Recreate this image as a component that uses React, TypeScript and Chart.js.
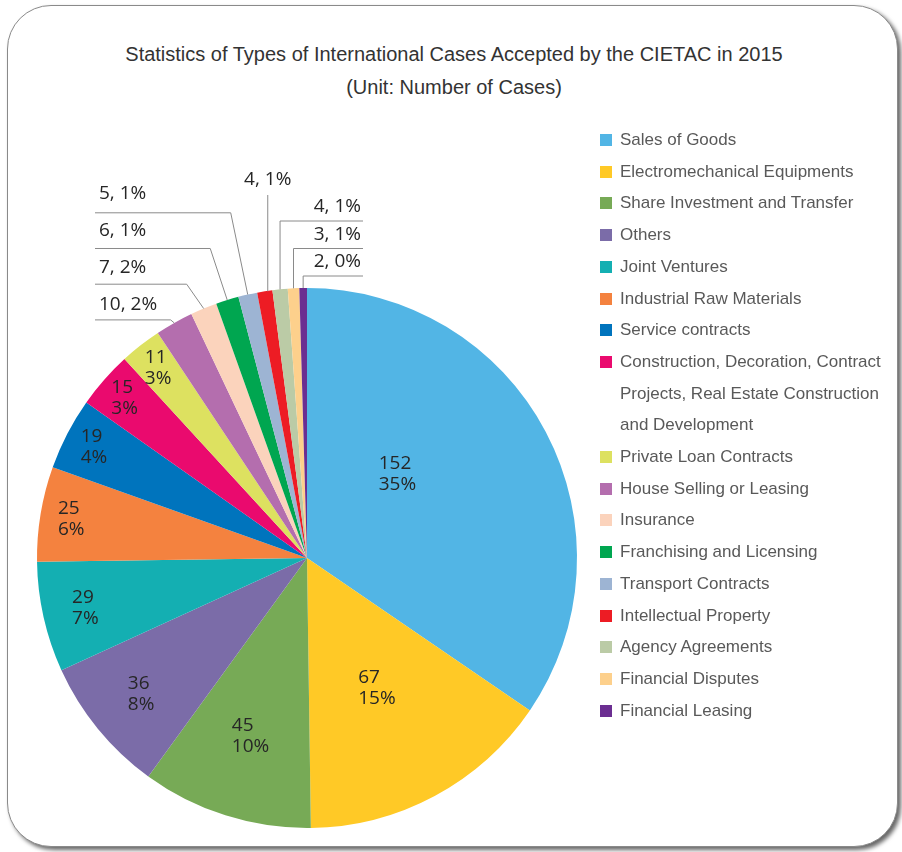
import React, { useEffect, useRef } from "react";
import { Chart, registerables } from "chart.js";

Chart.register(...registerables);

const TITLE_LINES = [
  "Statistics of Types of International Cases Accepted by the CIETAC in 2015",
  "(Unit: Number of Cases)",
];

const CATEGORIES = [
  "Sales of Goods",
  "Electromechanical Equipments",
  "Share Investment and Transfer",
  "Others",
  "Joint Ventures",
  "Industrial Raw Materials",
  "Service contracts",
  "Construction, Decoration, Contract Projects, Real Estate Construction and Development",
  "Private Loan Contracts",
  "House Selling or Leasing",
  "Insurance",
  "Franchising and Licensing",
  "Transport Contracts",
  "Intellectual Property",
  "Agency Agreements",
  "Financial Disputes",
  "Financial Leasing",
];

const CASES = [152, 67, 45, 36, 29, 25, 19, 15, 11, 10, 7, 6, 5, 4, 4, 3, 2];

const COLORS = [
  "#52B5E5",
  "#FFC926",
  "#77AA56",
  "#7B6CA8",
  "#14AFB2",
  "#F4823F",
  "#0074BD",
  "#EA0A6E",
  "#DDE160",
  "#B46EAE",
  "#FBD3BC",
  "#00A650",
  "#9DB4D3",
  "#ED1C24",
  "#BBCBA6",
  "#FDD08C",
  "#6B2E91",
];

// radial placement of inside labels as a function of slice share
const INSIDE_FRAC: [number, number][] = [
  [0.024, 0.91],
  [0.034, 0.907],
  [0.043, 0.889],
  [0.057, 0.885],
  [0.066, 0.841],
  [0.082, 0.793],
  [0.102, 0.693],
  [0.152, 0.548],
  [0.345, 0.456],
  [1, 0.4],
];

function insideFrac(p: number): number {
  if (p <= INSIDE_FRAC[0][0]) return INSIDE_FRAC[0][1];
  for (let i = 1; i < INSIDE_FRAC.length; i++) {
    const [p1, f1] = INSIDE_FRAC[i];
    const [p0, f0] = INSIDE_FRAC[i - 1];
    if (p <= p1) return f0 + ((p - p0) / (p1 - p0)) * (f1 - f0);
  }
  return INSIDE_FRAC[INSIDE_FRAC.length - 1][1];
}

const labelPlugin = {
  id: "pieLabels",
  afterDatasetsDraw(chart: any) {
    const ctx: CanvasRenderingContext2D = chart.ctx;
    const meta = chart.getDatasetMeta(0);
    const data = chart.data.datasets[0].data as number[];
    const total = data.reduce((a, b) => a + b, 0);
    ctx.save();
    ctx.font = '19px "Open Sans"';
    ctx.fillStyle = "#262626";
    ctx.textBaseline = "middle";
    ctx.strokeStyle = "#8a8a8a";
    ctx.lineWidth = 1;

    type Out = { i: number; deg: number; px: number; py: number; text: string };
    const outs: Out[] = [];
    let cx0 = 0;
    let cy0 = 0;
    let R0 = 0;

    meta.data.forEach((el: any, i: number) => {
      const { x, y, startAngle, endAngle, outerRadius } = el.getProps(
        ["x", "y", "startAngle", "endAngle", "outerRadius"],
        true
      );
      cx0 = x;
      cy0 = y;
      R0 = outerRadius;
      const p = data[i] / total;
      // largest slice label sits closer to the slice start (best-fit style)
      const a = p > 0.3 ? startAngle + (endAngle - startAngle) * 0.38 : (startAngle + endAngle) / 2;
      const pct = Math.round(p * 100) + "%";
      if (p >= 0.024) {
        const lines = [String(data[i]), pct];
        const lh = 21;
        const w = Math.max(...lines.map((l) => ctx.measureText(l).width));
        const h = lh * lines.length;
        let r = insideFrac(p) * outerRadius;
        let bx = 0;
        let by = 0;
        for (let k = 0; k < 200; k++) {
          bx = x + r * Math.cos(a);
          by = y + r * Math.sin(a);
          const corners = [
            [bx - w / 2, by - h / 2],
            [bx + w / 2, by - h / 2],
            [bx - w / 2, by + h / 2],
            [bx + w / 2, by + h / 2],
          ];
          const maxD = Math.max(...corners.map(([u, v]) => Math.hypot(u - x, v - y)));
          if (maxD <= outerRadius - 3) break;
          r -= 1;
        }
        ctx.textAlign = "left";
        lines.forEach((l, k) => {
          ctx.fillText(l, bx - w / 2, by - h / 2 + lh * (k + 0.5));
        });
      } else {
        const am = (startAngle + endAngle) / 2;
        let deg = ((am + Math.PI / 2) * 180) / Math.PI;
        deg = ((deg % 360) + 360) % 360;
        outs.push({
          i,
          deg,
          px: x + outerRadius * Math.cos(am),
          py: y + outerRadius * Math.sin(am),
          text: data[i] + ", " + pct,
        });
      }
    });

    const left = outs.filter((o) => o.deg < 349.5).sort((a, b) => a.deg - b.deg);
    const top = outs.filter((o) => o.deg >= 349.5 && o.deg < 352);
    const right = outs.filter((o) => o.deg >= 352).sort((a, b) => b.deg - a.deg);

    // left column
    const leftLineX = cx0 - R0 + 58;
    if (left.length) {
      const row0 = left[0].py - 3;
      left.forEach((o, k) => {
        const rowY = row0 - 35.7 * k;
        const elbowX = o.px - Math.min(17, 1.2 * (o.py - rowY));
        ctx.beginPath();
        ctx.moveTo(o.px, o.py);
        ctx.lineTo(elbowX, rowY);
        ctx.lineTo(leftLineX, rowY);
        ctx.stroke();
        ctx.textAlign = "left";
        ctx.fillText(o.text, leftLineX + 4, rowY - 15 - 1.5 * k);
      });
    }

    // top label
    top.forEach((o) => {
      const endY = cy0 - R0 - 93;
      ctx.beginPath();
      ctx.moveTo(o.px + 3, o.py);
      ctx.lineTo(o.px + 3, endY);
      ctx.stroke();
      ctx.textAlign = "center";
      ctx.fillText(o.text, o.px + 3, endY - 15);
    });

    // right column
    const rightLineX = cx0 + 56;
    right.forEach((o, k) => {
      const rowY = cy0 - R0 - 12 - 27.5 * k;
      ctx.beginPath();
      ctx.moveTo(o.px, o.py);
      ctx.lineTo(o.px, rowY);
      ctx.lineTo(rightLineX, rowY);
      ctx.stroke();
      ctx.textAlign = "right";
      ctx.fillText(o.text, rightLineX - 2, rowY - 14);
    });

    ctx.restore();
  },
};

export default function App() {
  const canvasRef = useRef<HTMLCanvasElement | null>(null);

  useEffect(() => {
    if (!canvasRef.current) return;
    const chart = new Chart(canvasRef.current, {
      type: "pie",
      data: {
        labels: CATEGORIES,
        datasets: [
          {
            data: CASES,
            backgroundColor: COLORS,
            borderWidth: 0,
            hoverOffset: 0,
            offset: 0,
          },
        ],
      },
      options: {
        responsive: false,
        animation: false,
        layout: { padding: { left: 37, top: 288, right: 325, bottom: 24 } },
        plugins: {
          legend: { display: false },
          tooltip: { enabled: false },
          title: { display: false },
        },
      },
      plugins: [labelPlugin],
    });
    return () => chart.destroy();
  }, []);

  return (
    <div
      style={{
        position: "fixed",
        left: 0,
        top: 0,
        width: 902,
        height: 852,
        background: "#ffffff",
        overflow: "hidden",
      }}
    >
      <div
        style={{
          position: "absolute",
          left: 7,
          top: 5,
          width: 891,
          height: 842,
          boxSizing: "border-box",
          border: "1.5px solid #8a8a8a",
          borderRadius: 44,
          boxShadow: "3px 3px 4px rgba(0,0,0,0.6)",
          background: "#fff",
        }}
      />
      <div
        style={{
          position: "absolute",
          left: 0,
          top: 38,
          width: 908,
          textAlign: "center",
          fontFamily: '"Liberation Sans", Arial, sans-serif',
          fontSize: 20,
          lineHeight: "33px",
          color: "#333",
        }}
      >
        {TITLE_LINES.map((t) => (
          <div key={t}>{t}</div>
        ))}
      </div>
      <canvas
        ref={canvasRef}
        width={902}
        height={852}
        style={{ position: "absolute", left: 0, top: 0, width: 902, height: 852 }}
      />
      <div
        style={{
          position: "absolute",
          left: 600,
          top: 124,
          width: 300,
          fontFamily: '"Liberation Sans", Arial, sans-serif',
          fontSize: 17,
          lineHeight: "31.7px",
          color: "#595959",
        }}
      >
        {CATEGORIES.map((c, i) => (
          <div key={c} style={{ position: "relative", paddingLeft: 20, width: 274 }}>
            <span
              style={{
                position: "absolute",
                left: 0,
                top: 10,
                width: 12,
                height: 12,
                background: COLORS[i],
              }}
            />
            {c}
          </div>
        ))}
      </div>
    </div>
  );
}
